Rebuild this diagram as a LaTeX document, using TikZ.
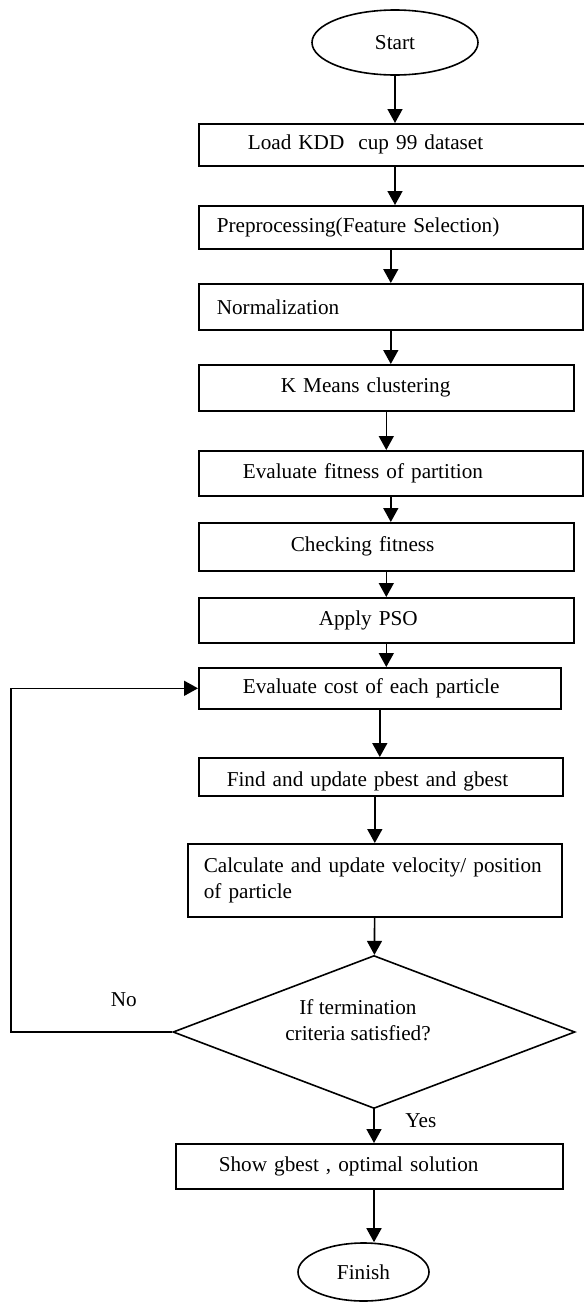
\documentclass[tikz,border=0pt]{standalone}
\usepackage{fontspec}
\setmainfont{Liberation Serif}
\usetikzlibrary{shapes.geometric,arrows.meta}

\begin{document}
\begin{tikzpicture}[
    x=0.5pt, y=-0.5pt,
    every node/.style={font=\fontsize{10.6}{13}\selectfont},
    block/.style={
        draw,
        line width=0.8pt,
        anchor=north west,
        align=left,
        inner ysep=0pt,
    },
    term/.style={
        draw,
        ellipse,
        line width=0.8pt,
        inner sep=0pt,
    },
    decision/.style={
        draw,
        diamond,
        aspect=2.6,
        line width=0.8pt,
        inner sep=0pt,
        align=center,
        minimum width=201pt,
        minimum height=76.5pt,
    },
    flow/.style={line width=0.8pt, -{Triangle[length=7pt,width=7.5pt]}},
]
\useasboundingbox (0,0) rectangle (584,1302);

% Positions are in pixels of the page, measured from the top left
\node[term, minimum width=83pt, minimum height=32.5pt] (start) at (395,42.5) {Start};
\node[block, minimum height=21pt, inner xsep=24.5pt, text width=145pt] (load) at (198,123) {Load KDD\ \ cup 99 dataset};
\node[block, minimum height=21.5pt, inner xsep=9pt, text width=174pt] (pre) at (198,205) {Preprocessing(Feature Selection)};
\node[block, minimum height=23pt, inner xsep=9pt, text width=174pt] (norm) at (198,283) {Normalization};
\node[block, minimum height=23pt, inner xsep=41pt, text width=105.5pt] (kmeans) at (198,364) {K Means clustering};
\node[block, minimum height=22.5pt, inner xsep=22pt, text width=148pt] (evalfit) at (198,450) {Evaluate fitness of partition};
\node[block, minimum height=24pt, inner xsep=46pt, text width=95.5pt] (check) at (198,522) {Checking fitness};
\node[block, minimum height=22.5pt, inner xsep=60pt, text width=67.5pt] (pso) at (198,597) {Apply PSO};
\node[block, minimum height=20.5pt, inner xsep=22pt, text width=137pt] (evalcost) at (198,667) {Evaluate cost of each particle};
\node[block, minimum height=19pt, inner xsep=14pt, text width=154pt, text height=10pt, text depth=0pt] (find) at (198,757) {Find and update pbest and gbest};
\node[block, minimum height=36.5pt, inner xsep=8pt, text width=171pt] (calc) at (187,843) {Calculate and update velocity/ position\\of particle};
\node[decision, text depth=12pt] (dec) at (374,1032) {If termination\hspace*{16pt}\\criteria satisfied?\hspace*{16pt}};
\node[block, minimum height=22.5pt, inner xsep=21.5pt, text width=150.5pt] (show) at (175,1143) {Show gbest , optimal solution};
\node[term, minimum width=65.5pt, minimum height=29pt] (finish) at (363.5,1272) {Finish};

\coordinate (loopx) at (11,0);

\draw[flow] (start) -- (start |- load.north);
\draw[flow] (load.south -| start) -- (pre.north -| start);
\draw[flow] (pre) -- (norm);
\draw[flow] (norm) -- (norm |- kmeans.north);
\draw[flow] (kmeans) -- (kmeans |- evalfit.north);
\draw[flow] (evalfit) -- (evalfit |- check.north);
\draw[flow] (check) -- (pso);
\draw[flow] (pso) -- (pso |- evalcost.north);
\draw[flow] (evalcost) -- (evalcost |- find.north);
\draw[flow] (find.south -| calc) -- (calc);
\draw[flow] (calc) -- (dec);
\draw[flow] (dec) -- node[pos=0.34, anchor=west, xshift=12pt] {Yes} (dec |- show.north);
\draw[flow] (show.south -| dec) -- (finish.north -| dec);
\draw[flow] (dec.west) -- node[pos=0.3, above=9pt] {No} (dec.west -| loopx) |- (evalcost.west);

\end{tikzpicture}
\end{document}
